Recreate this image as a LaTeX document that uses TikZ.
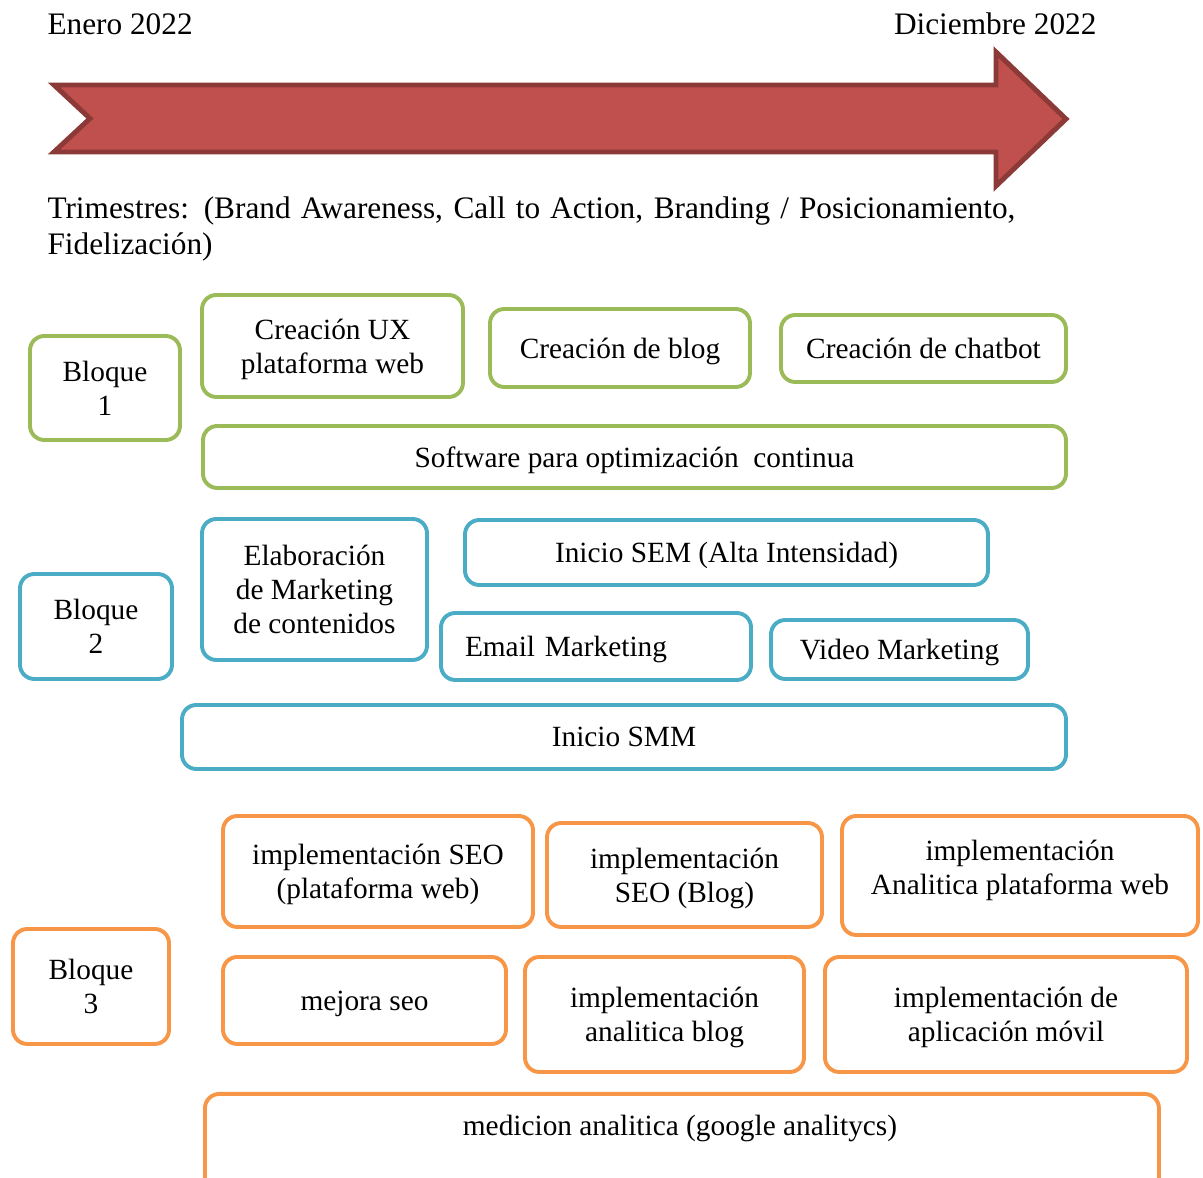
\documentclass[tikz,border=0pt]{standalone}
\usepackage{fontspec}
\setmainfont{Liberation Serif}
\usepackage{xcolor}
\definecolor{cverde}{HTML}{9BBB59}
\definecolor{cazul}{HTML}{4BACC6}
\definecolor{cnaranja}{HTML}{F79646}
\definecolor{crojo}{HTML}{C0504D}
\definecolor{crojoborde}{HTML}{8C3A38}
\tikzset{
caja/.style 2 args={line width=1.5pt,rounded corners=5.5pt,minimum width=#1*0.3835pt,minimum height=#2*0.3835pt,align=center,inner sep=0pt,text depth=0pt,font=\fontsize{11.25}{13}\selectfont},
verde/.style 2 args={caja={#1}{#2},draw=cverde},
azul/.style 2 args={caja={#1}{#2},draw=cazul},
naranja/.style 2 args={caja={#1}{#2},draw=cnaranja},
txt/.style={inner sep=0pt,font=\fontsize{12}{13.8}\selectfont}
}
\begin{document}
\begin{tikzpicture}[x=0.3835pt,y=-0.3835pt]
\useasboundingbox (0,0) rectangle (1203,1178);
\node[txt,anchor=west](ini)at(47,24){Enero 2022};
\node[txt,anchor=east](fin)at(1097,24){Diciembre 2022};
\draw[crojoborde,fill=crojo,line width=1.9pt,line join=miter](54,85)--(996,85)--(996,52)--(1066,119)--(996,186)--(996,152)--(54,152)--(90,118.5)--cycle;
\node[txt,anchor=west,align=left](trim)at(47,229){\makebox[371.2pt][s]{Trimestres: (Brand Awareness, Call to Action, Branding / Posicionamiento,}\\Fidelización)};
\node[verde={150}{104}](b1)at(105,388){Bloque\\1};
\node[verde={261}{102}](ux)at(332.5,346){Creación UX\\plataforma web};
\node[verde={260}{78}](blog)at(620,348){Creación de blog};
\node[verde={285}{67}](chat)at(923.5,348.5){Creación de chatbot};
\node[verde={863}{62}](soft)at(634.5,457){Software para optimización\ \ continua};
\node[azul={152}{105}](b2)at(96,626.5){Bloque\\2};
\node[azul={225}{141}](elab)at(314.5,589.5){Elaboración\\de Marketing\\de contenidos};
\node[azul={523}{65}](sem)at(726.5,552.5){Inicio SEM (Alta Intensidad)};
\node[azul={310}{67},text width=262*0.3835pt,align=left,inner xsep=24*0.3835pt](email)at(596,646.5){Email Marketing};
\node[azul={257}{59}](video)at(899.5,649.5){Video Marketing};
\node[azul={884}{64}](smm)at(624,737){Inicio SMM};
\node[naranja={156}{115}](b3)at(91,986.5){Bloque\\3};
\node[naranja={310}{111}](seow)at(378,871.5){implementación SEO\\(plataforma web)};
\node[naranja={275}{104}](seob)at(684.5,875){implementación\\SEO (Blog)};
\node[naranja={356}{119},text depth=6pt](anw)at(1020,875.5){implementación\\Analitica plataforma web};
\node[naranja={283}{87}](mejora)at(364.5,1000.5){mejora seo};
\node[naranja={279}{115}](anb)at(664.5,1014.5){implementación\\analitica blog};
\node[naranja={362}{115}](movil)at(1006,1014.5){implementación de\\aplicación móvil};
\node[naranja={954}{110},anchor=north west](med)at(203,1092){};
\node[txt,font=\fontsize{11.25}{13}\selectfont](medt)at(680,1128){medicion analitica (google analitycs)};
\end{tikzpicture}
\end{document}
